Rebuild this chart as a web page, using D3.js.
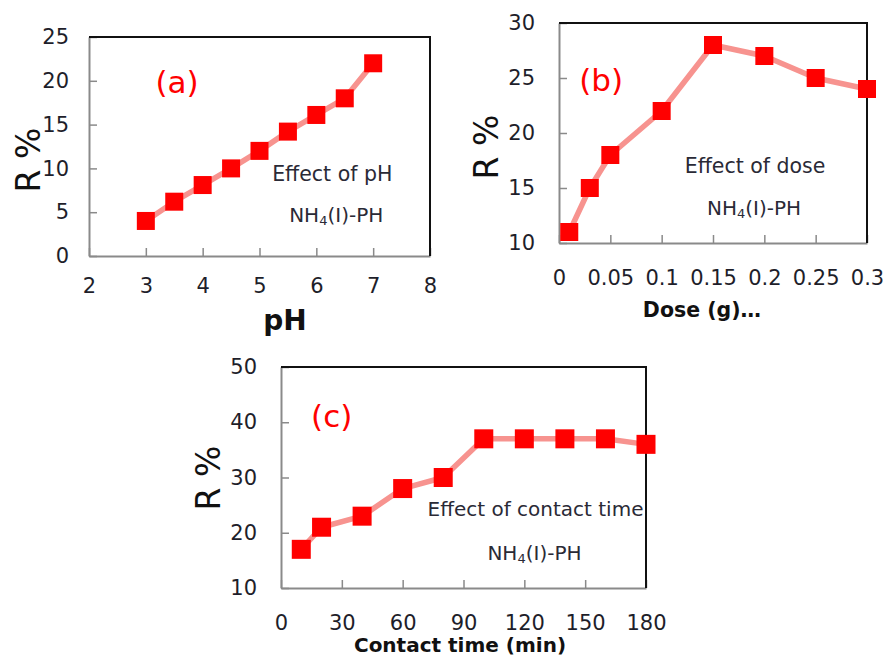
<!DOCTYPE html>
<html>
<head>
<meta charset="utf-8">
<script src="https://cdn.jsdelivr.net/npm/d3@7"></script>
<style>
  body { margin: 0; background: #fff; }
  svg { display: block; }
</style>
</head>
<body>
<svg id="chart" width="883" height="657"></svg>
<script>
// (a) effect of pH
const phValues = [3, 3.5, 4, 4.5, 5, 5.5, 6, 6.5, 7];
const phRemoval = [4, 6.2, 8.1, 10, 12, 14.2, 16.1, 18, 22];
const phTicksX = [2, 3, 4, 5, 6, 7, 8];
const phTicksY = [0, 5, 10, 15, 20, 25];

// (b) effect of dose
const doseValues = [0.01, 0.03, 0.05, 0.1, 0.15, 0.2, 0.25, 0.3];
const doseRemoval = [11, 15, 18, 22, 28, 27, 25, 24];
const doseTicksX = [0, 0.05, 0.1, 0.15, 0.2, 0.25, 0.3];
const doseTicksY = [10, 15, 20, 25, 30];

// (c) effect of contact time
const timeValues = [10, 20, 40, 60, 80, 100, 120, 140, 160, 180];
const timeRemoval = [17, 21, 23, 28, 30, 37, 37, 37, 37, 36];
const timeTicksX = [0, 30, 60, 90, 120, 150, 180];
const timeTicksY = [10, 20, 30, 40, 50];

const FONT = "'DejaVu Sans', Verdana, sans-serif";
const svg = d3.select('#chart');

function drawPanel(p) {
    let g = svg.append('g').attr('transform', `translate(${p.left},${p.top})`);

    let x = d3.scaleLinear().domain(p.xDomain).range([0, p.width]);
    let y = d3.scaleLinear().domain(p.yDomain).range([p.height, 0]);

    let xAxis = d3.axisBottom(x)
        .tickValues(p.xTicks)
        .tickFormat(d => String(d))
        .tickSizeInner(-8)
        .tickSizeOuter(0)
        .tickPadding(p.xPad);
    let yAxis = d3.axisLeft(y)
        .tickValues(p.yTicks)
        .tickSizeInner(-8)
        .tickSizeOuter(0)
        .tickPadding(p.yPad);

    let gx = g.append('g').attr('transform', `translate(0,${p.height})`).call(xAxis);
    let gy = g.append('g').call(yAxis);

    [gx, gy].forEach(a => {
        a.attr('font-family', FONT).attr('font-size', 21);
        a.select('.domain').attr('stroke', '#8a8a8a').attr('stroke-width', 2);
        a.selectAll('.tick line').attr('stroke', '#8a8a8a').attr('stroke-width', 1.5);
        a.selectAll('.tick text').attr('fill', '#1e1e2a');
    });
    gx.selectAll('.tick text').attr('dy', '0.71em');

    // top and right border
    g.append('path')
        .attr('d', `M0,0H${p.width}V${p.height}`)
        .attr('fill', 'none')
        .attr('stroke', '#111')
        .attr('stroke-width', 2);

    let pts = p.xs.map((v, i) => [v, p.ys[i]]);

    g.append('path')
        .datum(pts)
        .attr('d', d3.line().x(d => x(d[0])).y(d => y(d[1])))
        .attr('fill', 'none')
        .attr('stroke', '#f7938f')
        .attr('stroke-width', 5.5)
        .attr('stroke-linejoin', 'round');

    g.selectAll('rect.mk')
        .data(pts)
        .enter()
        .append('rect')
        .attr('class', 'mk')
        .attr('x', d => x(d[0]) - p.mark / 2)
        .attr('y', d => y(d[1]) - p.mark / 2)
        .attr('width', p.mark)
        .attr('height', p.mark)
        .attr('fill', '#ff0000');

    // panel letter
    g.append('text')
        .attr('x', x(p.tag[0]))
        .attr('y', y(p.tag[1]))
        .attr('text-anchor', 'middle')
        .attr('dominant-baseline', 'central')
        .attr('font-family', FONT)
        .attr('font-size', 31)
        .attr('fill', '#ff0000')
        .text(p.tag[2]);

    // effect note
    g.append('text')
        .attr('x', x(p.note[0]))
        .attr('y', y(p.note[1]))
        .attr('text-anchor', 'middle')
        .attr('dominant-baseline', 'central')
        .attr('font-family', FONT)
        .attr('font-size', p.noteSize)
        .attr('fill', '#2a2a36')
        .text(p.note[2]);

    let nh = g.append('text')
        .attr('x', x(p.comp[0]))
        .attr('y', y(p.comp[1]))
        .attr('text-anchor', 'middle')
        .attr('dominant-baseline', 'central')
        .attr('font-family', FONT)
        .attr('font-size', 20)
        .attr('fill', '#2a2a36');
    nh.append('tspan').text('NH');
    nh.append('tspan').attr('font-size', 13).attr('dy', 5).text('4');
    nh.append('tspan').attr('dy', -5).text('(I)-PH');

    // axis titles
    g.append('text')
        .attr('transform', `translate(${p.yTitle[0]},${p.yTitle[1]}) rotate(-90)`)
        .attr('text-anchor', 'middle')
        .attr('dominant-baseline', 'central')
        .attr('font-family', FONT)
        .attr('font-size', 33)
        .attr('fill', '#111')
        .text('R %');

    g.append('text')
        .attr('x', p.xTitle[0])
        .attr('y', p.xTitle[1])
        .attr('text-anchor', 'middle')
        .attr('dominant-baseline', 'central')
        .attr('font-family', FONT)
        .attr('font-weight', 'bold')
        .attr('font-size', p.xTitle[3])
        .attr('fill', '#111')
        .text(p.xTitle[2]);
}

drawPanel({
    left: 89, top: 37, width: 341, height: 219,
    xDomain: [2, 8], yDomain: [0, 25],
    xTicks: phTicksX, yTicks: phTicksY,
    xPad: 22, yPad: 20,
    xs: phValues, ys: phRemoval, mark: 18,
    tag: [3.55, 19.9, '(a)'],
    note: [6.28, 9.4, 'Effect of pH'], noteSize: 20.5,
    comp: [6.35, 4.7],
    yTitle: [-61, 123], xTitle: [196, 283, 'pH', 28]
});

drawPanel({
    left: 559, top: 23, width: 308, height: 220,
    xDomain: [0, 0.3], yDomain: [10, 30],
    xTicks: doseTicksX, yTicks: doseTicksY,
    xPad: 27, yPad: 24,
    xs: doseValues, ys: doseRemoval, mark: 18,
    tag: [0.041, 24.8, '(b)'],
    note: [0.191, 17.0, 'Effect of dose'], noteSize: 20.5,
    comp: [0.19, 13.2],
    yTitle: [-73, 124], xTitle: [143, 287, 'Dose (g)\u2026', 20.5]
});

drawPanel({
    left: 281, top: 367, width: 365, height: 221,
    xDomain: [0, 180], yDomain: [10, 50],
    xTicks: timeTicksX, yTicks: timeTicksY,
    xPad: 27, yPad: 24,
    xs: timeValues, ys: timeRemoval, mark: 19,
    tag: [25, 41.1, '(c)'],
    note: [125.5, 24.3, 'Effect of contact time'], noteSize: 20,
    comp: [125, 16.4],
    yTitle: [-73, 111], xTitle: [179, 278, 'Contact time (min)', 20]
});
</script>
</body>
</html>
